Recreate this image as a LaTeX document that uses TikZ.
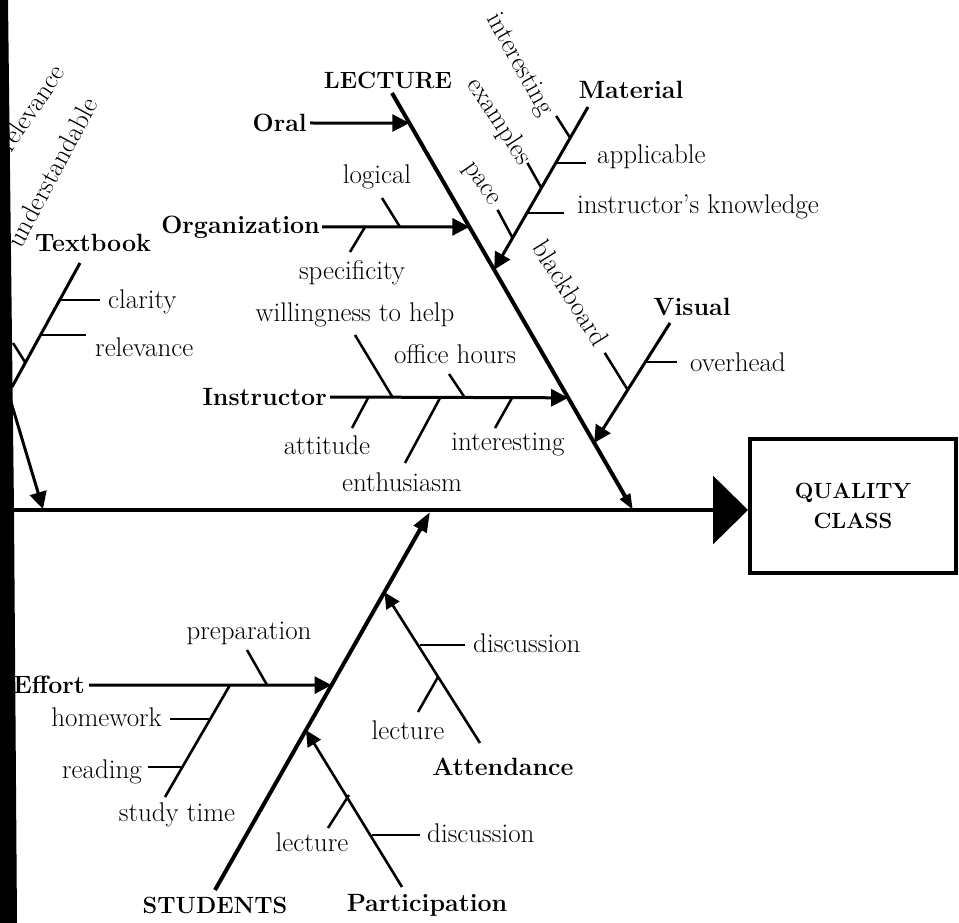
\documentclass[tikz,border=0pt]{standalone}
\usetikzlibrary{arrows.meta,calc}
\begin{document}
\begin{tikzpicture}[x=1pt,y=-1pt,
  bone/.style={line width=4pt},
  subarrow/.style={line width=3pt,-{Triangle[length=17pt,width=17pt]}},
  minorbone/.style={line width=2.6pt,-{Triangle[length=16pt,width=15pt]}},
  tick/.style={line width=2.5pt},
  lab/.style={font=\fontsize{27}{31}\selectfont, inner sep=0pt},
  blab/.style={font=\fontsize{25}{29}\selectfont\bfseries, inner sep=0pt},
  caplab/.style={font=\fontsize{23.5}{27}\selectfont\bfseries, inner sep=0pt}]
\useasboundingbox (0,0) rectangle (959,923);

% ---------- effect box and spine ----------
\node[draw, line width=4.5pt, minimum width=206pt, minimum height=134pt, inner sep=0pt,
      align=center, font=\fontsize{22}{30}\selectfont\bfseries] (box) at (853,506) {QUALITY\\CLASS};
\coordinate (sL) at (12,510);
\coordinate (sR) at (748,510);
\draw[line width=3.5pt, -{Triangle[length=35pt,width=68pt]}] (sL) -- (sR);

% ---------- LECTURE ----------
\coordinate (Ltop) at (392,93);
\coordinate (Lend) at (633,510);
\node[caplab] (lect) at (388,80) {LECTURE};
\draw[bone, -{Triangle[length=16pt,width=11pt]}] (Ltop) -- (Lend);

% Oral
\node[blab, anchor=east] (oral) at (307,123) {Oral};
\coordinate (Lo) at ($(Ltop)!0.072!(Lend)$);
\draw[subarrow] ([xshift=3pt]oral.east) -- (Lo);

% Organization
\node[blab, anchor=east] (org) at (320,227) {Organization};
\coordinate (Lg) at ($(Ltop)!0.321!(Lend)$);
\draw[subarrow] ([xshift=2pt]org.east) -- (Lg);
\node[lab] (logical) at (377,177) {logical};
\node[lab] (specif) at (352,273) {specificity};
\draw[tick] (400,227) -- ++(-18,-29);
\draw[tick] (365,227) -- ++(-15,25);

% Instructor
\node[blab, anchor=east] (instr) at (327,397) {Instructor};
\coordinate (Li) at ($(Ltop)!0.731!(Lend)$);
\draw[subarrow] ([xshift=3pt]instr.east) -- (Li);
\node[lab] (will) at (355,315) {willingness to help};
\node[lab] (office) at (455,354) {office hours};
\node[lab] (attit) at (327,445) {attitude};
\node[lab] (enth) at (402,482) {enthusiasm};
\node[lab] (inter) at (508,445) {interesting};
\draw[tick] (393,398) -- ++(-38,-63);
\draw[tick] (465,398) -- ++(-16,-24);
\draw[tick] (368,398) -- ++(-16,30);
\draw[tick] (440,398) -- ++(-35,65);
\draw[tick] (512,398) -- ++(-17,30);

% Material
\coordinate (Mtop) at (588,107);
\coordinate (Mend) at ($(Ltop)!0.424!(Lend)$);
\node[blab] (mat) at (631,90) {Material};
\draw[subarrow] (Mtop) -- (Mend);
\draw[tick] ($(Mtop)!0.19!(Mend)$) -- ++(-14,-22);
\draw[tick] ($(Mtop)!0.344!(Mend)$) -- ++(30,0);
\draw[tick] ($(Mtop)!0.497!(Mend)$) -- ++(-14,-25);
\draw[tick] ($(Mtop)!0.65!(Mend)$) -- ++(37,0);
\draw[tick] ($(Mtop)!0.804!(Mend)$) -- ++(-15,-28);
\node[lab, rotate=-61] (minter) at (519,65) {interesting};
\node[lab, rotate=-57] (mex) at (499,122) {examples};
\node[lab, rotate=-55] (mpace) at (480,185) {pace};
\node[lab, anchor=west] (mappl) at (597,157) {applicable};
\node[lab, anchor=west] (mknow) at (577,207) {instructor's knowledge};

% Visual
\coordinate (Vtop) at (670,323);
\coordinate (Vend) at ($(Ltop)!0.839!(Lend)$);
\node[blab] (vis) at (692,307) {Visual};
\draw[subarrow] (Vtop) -- (Vend);
\draw[tick] ($(Vtop)!0.325!(Vend)$) -- ++(32,0);
\draw[tick] ($(Vtop)!0.558!(Vend)$) -- ++(-23,-37);
\node[lab, anchor=west] (over) at (690,362) {overhead};
\node[lab, rotate=-58] (black) at (571,293) {blackboard};

% ---------- cut-off left bone ----------
\coordinate (Ttop) at (80,263);
\coordinate (Tbot) at (12,387);
\node[blab] (tbook) at (93,243) {Textbook};
\draw[line width=3pt] (Ttop) -- (Tbot);
\draw[tick] (60,300) -- ++(40,0);
\draw[tick] (40.5,335) -- ++(45,0);
\draw[tick] (25,362) -- ++(-12,-19);
\node[lab, anchor=west] (clar) at (108,302) {clarity};
\node[lab, anchor=west] (trel) at (95,347) {relevance};
\node[lab, rotate=62] (under) at (52,172) {understandable};
\node[lab, rotate=56] (rel2) at (31,108) {relevance};
\coordinate (Xtop) at (8,392);
\coordinate (Xend) at (43,509);
\draw[subarrow] (Xtop) -- (Xend);

% ---------- STUDENTS ----------
\coordinate (Sbot) at (215,890);
\coordinate (Stip) at (430,512);
\node[caplab] (stud) at (215,905) {STUDENTS};
\draw[bone, -{Triangle[length=20pt,width=14pt]}] (Sbot) -- (Stip);

% Effort
\node[blab, anchor=east] (effort) at (85,685) {Effort};
\coordinate (Se) at ($(Sbot)!0.542!(Stip)$);
\draw[subarrow] ([xshift=4pt]effort.east) -- (Se);
\node[lab] (prep) at (249,633) {preparation};
\draw[tick] (267,685) -- ++(-20,-35);
\coordinate (Etop) at (230,685);
\coordinate (Ebot) at (165,797);
\draw[line width=2.6pt] (Etop) -- (Ebot);
\draw[tick] (211,719) -- ++(-41,0);
\draw[tick] (183,767) -- ++(-35,0);
\node[lab, anchor=east] (hw) at (162,717) {homework};
\node[lab, anchor=east] (read) at (142,772) {reading};
\node[lab] (study) at (177,815) {study time};

% Attendance
\coordinate (Abot) at (480,743);
\coordinate (Aend) at ($(Sbot)!0.788!(Stip)$);
\node[blab] (att) at (503,767) {Attendance};
\draw[minorbone] (Abot) -- (Aend);
\draw[tick] (420,645) -- ++(45,0);
\draw[tick] (438,677) -- ++(-20,35);
\node[lab, anchor=west] (adisc) at (473,643) {discussion};
\node[lab] (alect) at (408,730) {lecture};

% Participation
\coordinate (Pbot) at (402,887);
\coordinate (Pend) at ($(Sbot)!0.423!(Stip)$);
\node[blab] (part) at (427,905) {Participation};
\draw[minorbone] (Pbot) -- (Pend);
\draw[tick] (372,835) -- ++(48,0);
\draw[tick] (349,795) -- ++(-21,33);
\node[lab, anchor=west] (pdisc) at (427,833) {discussion};
\node[lab] (plect) at (312,842) {lecture};

% ---------- left black edge ----------
\fill (0,0) -- (8,0) -- (14,510) -- (17,923) -- (0,923) -- cycle;
\end{tikzpicture}
\end{document}
